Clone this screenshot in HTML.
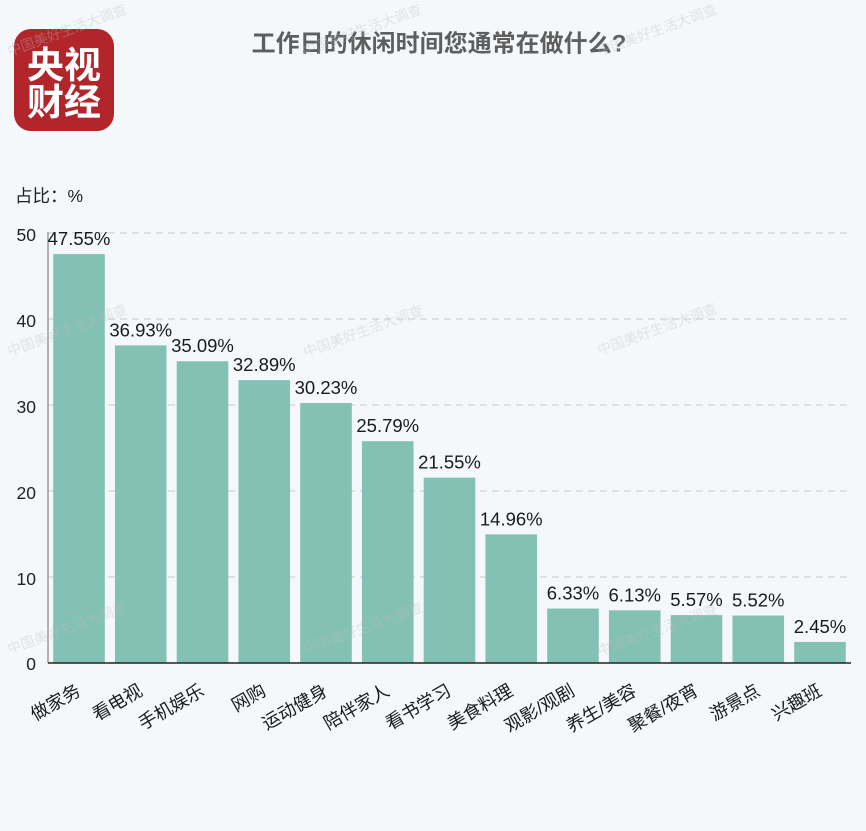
<!DOCTYPE html>
<html>
<head>
<meta charset="utf-8">
<style>
  html,body{margin:0;padding:0;}
  body{width:866px;height:831px;background:#f4f8fb;overflow:hidden;}
  svg{display:block;}
</style>
</head>
<body>
<svg width="866" height="831" viewBox="0 0 866 831" xmlns="http://www.w3.org/2000/svg">
  <rect x="0" y="0" width="866" height="831" fill="#f4f8fb"/>

  <!-- Logo -->
  <rect x="14" y="29" width="100" height="102" rx="17" ry="17" fill="#b2262b"/>
  <g font-family="'Noto Sans CJK SC',sans-serif" font-weight="bold" fill="#ffffff" font-size="37" text-anchor="middle" dominant-baseline="central">
    <text x="64" y="62">央视</text>
    <text x="64" y="99">财经</text>
  </g>

  <!-- Title -->
  <text x="439" y="44" text-anchor="middle" dominant-baseline="central" font-family="'Liberation Sans','Noto Sans CJK SC',sans-serif" font-weight="bold" font-size="24" fill="#5e5e5e">工作日的休闲时间您通常在做什么?</text>

  <!-- Unit label -->
  <text x="15" y="202" font-family="'Liberation Sans','Noto Sans CJK SC',sans-serif" font-size="17.5" fill="#222">占比：%</text>

  <!-- Grid lines -->
  <g stroke="#c9c9c9" stroke-width="1" stroke-dasharray="7 5">
    <line x1="48" y1="233" x2="851" y2="233"/>
    <line x1="48" y1="319" x2="851" y2="319"/>
    <line x1="48" y1="405" x2="851" y2="405"/>
    <line x1="48" y1="491" x2="851" y2="491"/>
    <line x1="48" y1="577" x2="851" y2="577"/>
  </g>

  <!-- Y tick labels -->
  <g font-family="'Liberation Sans',sans-serif" font-size="17.5" fill="#222" text-anchor="end" dominant-baseline="central">
    <text x="36" y="235">50</text>
    <text x="36" y="321">40</text>
    <text x="36" y="407">30</text>
    <text x="36" y="493">20</text>
    <text x="36" y="579">10</text>
    <text x="36" y="664">0</text>
  </g>

  <!-- Bars -->
  <g fill="#84c1b5">
    <rect x="53.2" y="254.07" width="51.6" height="408.93"/>
    <rect x="114.95" y="345.4" width="51.6" height="317.6"/>
    <rect x="176.7" y="361.23" width="51.6" height="301.77"/>
    <rect x="238.45" y="380.15" width="51.6" height="282.85"/>
    <rect x="300.2" y="403.02" width="51.6" height="259.98"/>
    <rect x="361.95" y="441.21" width="51.6" height="221.79"/>
    <rect x="423.7" y="477.67" width="51.6" height="185.33"/>
    <rect x="485.45" y="534.34" width="51.6" height="128.66"/>
    <rect x="547.2" y="608.56" width="51.6" height="54.44"/>
    <rect x="608.95" y="610.28" width="51.6" height="52.72"/>
    <rect x="670.7" y="615.1" width="51.6" height="47.9"/>
    <rect x="732.45" y="615.53" width="51.6" height="47.47"/>
    <rect x="794.2" y="641.93" width="51.6" height="21.07"/>
  </g>

  <!-- Axes -->
  <line x1="48" y1="232" x2="48" y2="663" stroke="#9a9a9a" stroke-width="1.5"/>
  <line x1="48" y1="663" x2="851" y2="663" stroke="#222" stroke-width="1.5"/>

  <!-- Value labels -->
  <g font-family="'Liberation Sans',sans-serif" font-size="18.5" fill="#1a1a1a" text-anchor="middle">
    <text x="79" y="245">47.55%</text>
    <text x="140.75" y="336.4">36.93%</text>
    <text x="202.5" y="352.2">35.09%</text>
    <text x="264.25" y="371.2">32.89%</text>
    <text x="326" y="394">30.23%</text>
    <text x="387.75" y="432.2">25.79%</text>
    <text x="449.5" y="468.7">21.55%</text>
    <text x="511.25" y="525.3">14.96%</text>
    <text x="573" y="599.6">6.33%</text>
    <text x="634.75" y="601.3">6.13%</text>
    <text x="696.5" y="606.1">5.57%</text>
    <text x="758.25" y="606.5">5.52%</text>
    <text x="820" y="632.9">2.45%</text>
  </g>

  <!-- X category labels -->
  <g font-family="'Liberation Sans','Noto Sans CJK SC',sans-serif" font-size="18" fill="#1a1a1a" text-anchor="end" dominant-baseline="central">
    <text transform="translate(79,689) rotate(-30)">做家务</text>
    <text transform="translate(140.75,689) rotate(-30)">看电视</text>
    <text transform="translate(202.5,689) rotate(-30)">手机娱乐</text>
    <text transform="translate(264.25,689) rotate(-30)">网购</text>
    <text transform="translate(326,689) rotate(-30)">运动健身</text>
    <text transform="translate(387.75,689) rotate(-30)">陪伴家人</text>
    <text transform="translate(449.5,689) rotate(-30)">看书学习</text>
    <text transform="translate(511.25,689) rotate(-30)">美食料理</text>
    <text transform="translate(573,689) rotate(-30)">观影/观剧</text>
    <text transform="translate(634.75,689) rotate(-30)">养生/美容</text>
    <text transform="translate(696.5,689) rotate(-30)">聚餐/夜宵</text>
    <text transform="translate(758.25,689) rotate(-30)">游景点</text>
    <text transform="translate(820,689) rotate(-30)">兴趣班</text>
  </g>

  <!-- Watermarks -->
  <g font-family="'Noto Sans CJK SC',sans-serif" font-size="14" fill="#bdbdbd" fill-opacity="0.35" text-anchor="middle" dominant-baseline="central">
    <text transform="translate(67,30) rotate(-20)">中国美好生活大调查</text>
    <text transform="translate(362,30) rotate(-20)">中国美好生活大调查</text>
    <text transform="translate(657,30) rotate(-20)">中国美好生活大调查</text>
    <text transform="translate(67,330) rotate(-20)">中国美好生活大调查</text>
    <text transform="translate(363,331) rotate(-20)">中国美好生活大调查</text>
    <text transform="translate(657,329) rotate(-20)">中国美好生活大调查</text>
    <text transform="translate(67,628) rotate(-20)">中国美好生活大调查</text>
    <text transform="translate(363,628) rotate(-20)">中国美好生活大调查</text>
    <text transform="translate(657,630) rotate(-20)">中国美好生活大调查</text>
  </g>
</svg>
</body>
</html>
